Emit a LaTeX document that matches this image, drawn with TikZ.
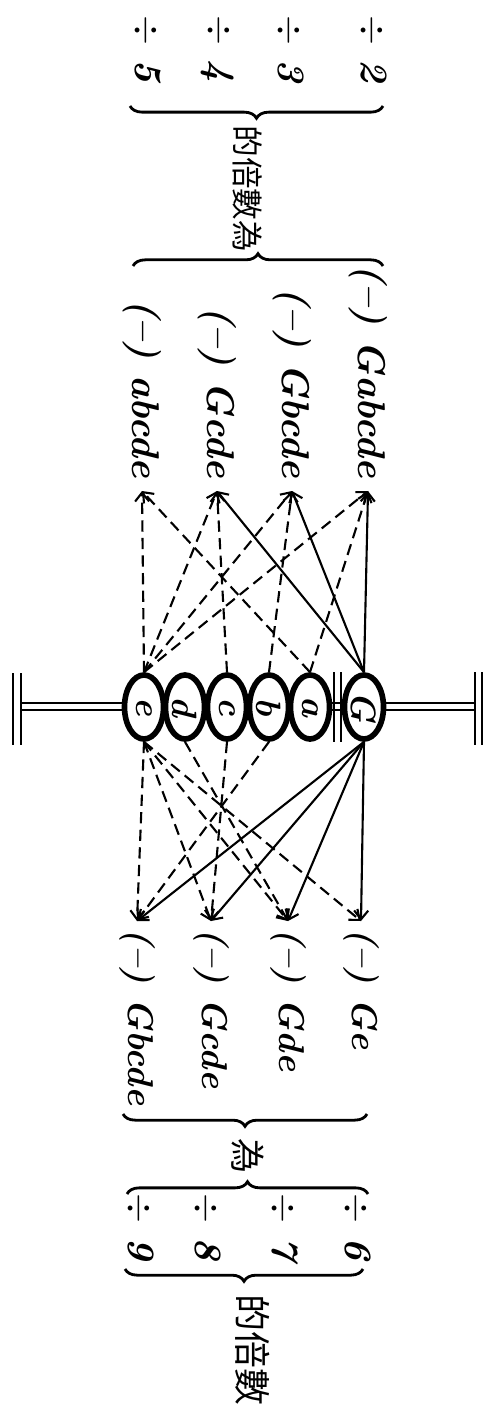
\documentclass[tikz,border=0pt]{standalone}
\usepackage{fontspec}
\newfontfamily\cjk{Noto Sans CJK TC}
\usetikzlibrary{arrows.meta,shapes.geometric,decorations.pathreplacing}

\begin{document}
\begin{tikzpicture}[x=0.01cm,y=-0.01cm,
  bead/.style={draw,ellipse,line width=1.6pt,fill=white,inner sep=0pt,
               minimum width=0.39cm,minimum height=0.64cm,
               font=\fontsize{10}{12}\selectfont\bfseries\itshape},
  term/.style={rotate=-90,inner xsep=3.5pt,inner ysep=1pt,
               font=\fontsize{11}{13}\selectfont\bfseries\itshape},
  lterm/.style={term,inner xsep=2pt,font=\fontsize{10.2}{12}\selectfont\bfseries\itshape},
  divr/.style={rotate=-90,inner sep=0pt,font=\fontsize{11}{13}\selectfont\bfseries\itshape},
  hanzi/.style={rotate=-90,inner sep=0pt,font=\cjk\fontsize{9}{11}\selectfont},
  grp/.style={decorate,decoration={brace,amplitude=3.5pt},line width=0.8pt},
  link/.style={-{Straight Barb[length=2.5pt,width=4pt]},line width=0.6pt},
  dlink/.style={link,dash pattern=on 3.2pt off 1.8pt},
  rod/.style={line width=0.7pt}
]
  \useasboundingbox (0,0) rectangle (489,1413);

  % ── divisors and braces (top) ─────────────────────────────────────────────
  \node[divr] (q2) at (373,49) {$\div$\hspace{4pt}2};
  \node[divr] (q3) at (290,49) {$\div$\hspace{4pt}3};
  \node[divr] (q4) at (218,49) {$\div$\hspace{4pt}4};
  \node[divr] (q5) at (147,49) {$\div$\hspace{4pt}5};
  \draw[grp] (383,106) -- (130,106);
  \node[hanzi] (lab1) at (248,189) {的倍數為};
  \draw[grp] (133,266) -- (383,266);

  % ── upper terms ───────────────────────────────────────────────────────────
  \node[term,anchor=east] (t1) at (368,491) {(--) Gabcde};
  \node[term,anchor=east] (t2) at (292,491) {(--) Gbcde};
  \node[term,anchor=east] (t3) at (217,491) {(--) Gcde};
  \node[term,anchor=east] (t4) at (142,491) {(--) abcde};

  % ── rod and beads ─────────────────────────────────────────────────────────
  \draw[rod] (13,673) -- (13,745) (21,673) -- (21,745);
  \draw[rod] (21,703) -- (475,703) (21,710) -- (475,710);
  \draw[rod] (475,672) -- (475,745) (482,672) -- (482,745);
  \draw[rod] (334,672) -- (334,742) (341,672) -- (341,742);
  \node[bead] (e) at (144,707) {\rotatebox{-90}{e}};
  \node[bead] (d) at (185,707) {\rotatebox{-90}{d}};
  \node[bead] (c) at (227,707) {\rotatebox{-90}{c}};
  \node[bead] (b) at (269,707) {\rotatebox{-90}{b}};
  \node[bead] (a) at (310,707) {\rotatebox{-90}{a}};
  \node[bead] (G) at (364,707) {\rotatebox{-90}{G}};

  % ── lower terms ───────────────────────────────────────────────────────────
  \node[lterm,anchor=west] (u1) at (361,921) {(--) Ge};
  \node[lterm,anchor=west] (u2) at (288,921) {(--) Gde};
  \node[lterm,anchor=west] (u3) at (211,921) {(--) Gcde};
  \node[lterm,anchor=west] (u4) at (137,921) {(--) Gbcde};

  % ── links up ──────────────────────────────────────────────────────────────
  \draw[link] (G.north) -- (t1.east); \draw[link] (G.north) -- (t2.east);
  \draw[link] (G.north) -- (t3.east);
  \draw[dlink] (a.north) -- (t1.east); \draw[dlink] (a.north) -- (t4.east);
  \draw[dlink] (b.north) -- (t2.east); \draw[dlink] (c.north) -- (t3.east);
  \draw[dlink] (e.north) -- (t1.east); \draw[dlink] (e.north) -- (t2.east);
  \draw[dlink] (e.north) -- (t3.east); \draw[dlink] (e.north) -- (t4.east);

  % ── links down ────────────────────────────────────────────────────────────
  \draw[link] (G.south) -- (u1.west); \draw[link] (G.south) -- (u2.west);
  \draw[link] (G.south) -- (u3.west); \draw[link] (G.south) -- (u4.west);
  \draw[dlink] (d.south) -- (u2.west); \draw[dlink] (c.south) -- (u3.west);
  \draw[dlink] (b.south) -- (u4.west);
  \draw[dlink] (e.south) -- (u1.west); \draw[dlink] (e.south) -- (u2.west);
  \draw[dlink] (e.south) -- (u3.west); \draw[dlink] (e.south) -- (u4.west);

  % ── braces and divisors (bottom) ──────────────────────────────────────────
  \draw[grp] (367,1114) -- (123,1114);
  \node[hanzi,font=\cjk\fontsize{10}{12}\selectfont] (lab2) at (248,1156) {為};
  \draw[grp] (127,1194) -- (368,1194);
  \node[divr] (q6) at (357,1227) {$\div$\hspace{4pt}6};
  \node[divr] (q7) at (284,1227) {$\div$\hspace{4pt}7};
  \node[divr] (q8) at (207,1227) {$\div$\hspace{4pt}8};
  \node[divr] (q9) at (140,1227) {$\div$\hspace{4pt}9};
  \draw[grp] (363,1269) -- (125,1269);
  \node[hanzi,font=\cjk\fontsize{10.5}{12}\selectfont] (lab3) at (253,1350) {的倍數};
\end{tikzpicture}
\end{document}
